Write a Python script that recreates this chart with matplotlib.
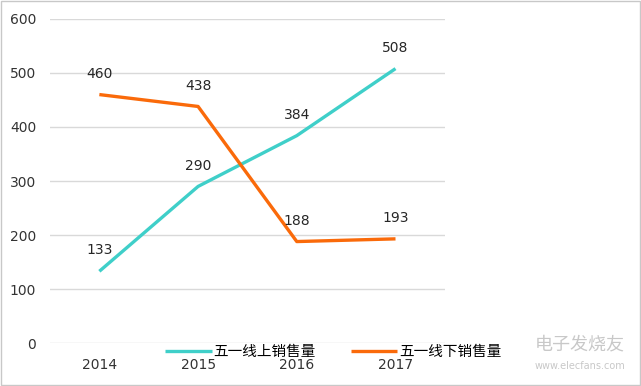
import matplotlib.pyplot as plt
import numpy as np

plt.rcParams['font.family'] = ['Noto Sans CJK SC', 'DejaVu Sans']

years = ["2014", "2015", "2016", "2017"]
online = [133, 290, 384, 508]
offline = [460, 438, 188, 193]
online_name = "五一线上销售量"
offline_name = "五一线下销售量"

fig = plt.figure(figsize=(6.41, 3.86), dpi=100)
ax = fig.add_axes([0.078, 0.111, 0.616, 0.840])

x = np.arange(len(years))
ax.plot(x, online, color='#3FCFC9', linewidth=2.4, label=online_name, solid_capstyle='butt')
ax.plot(x, offline, color='#FA6A0A', linewidth=2.4, label=offline_name, solid_capstyle='butt')

# data labels above each point
for series in (online, offline):
    for xi, v in zip(x, series):
        ax.annotate(str(v), (xi, v), xytext=(0, 10), textcoords='offset points',
                    ha='center', va='bottom', fontsize=10, color='#262626', family='DejaVu Sans')

ax.set_xlim(-0.5, 3.5)
ax.set_ylim(0, 600)
ax.set_yticks(range(0, 601, 100))
ax.set_xticks(x)
ax.set_xticklabels(years)
ax.tick_params(length=0, labelsize=10, colors='#333333', pad=10)
ax.tick_params(axis='x', pad=11)
for lab in ax.get_xticklabels() + ax.get_yticklabels():
    lab.set_family('DejaVu Sans')
ax.grid(axis='y', color='#D9D9D9', linewidth=1)
ax.set_axisbelow(True)
for s in ax.spines.values():
    s.set_visible(False)

# legend sits on top of the x tick labels, as in the original
fig.legend(loc='center', bbox_to_anchor=(0.52, 0.088), ncol=2, frameon=False,
           fontsize=10.5, handlelength=3.2, columnspacing=2.4, handletextpad=0.1)

# watermark
fig.text(0.905, 0.095, "电子发烧友", fontsize=13, color='#C8C8C8', ha='center', style='italic')
fig.text(0.905, 0.045, "www.elecfans.com", fontsize=7, color='#C8C8C8', ha='center', family='DejaVu Sans')

# light frame around the image
fig.patches.append(plt.Rectangle((0.001, 0.002), 0.997, 0.995, transform=fig.transFigure,
                                 fill=False, edgecolor='#C8C8C8', linewidth=1))

fig.savefig('out.png', dpi=100)
